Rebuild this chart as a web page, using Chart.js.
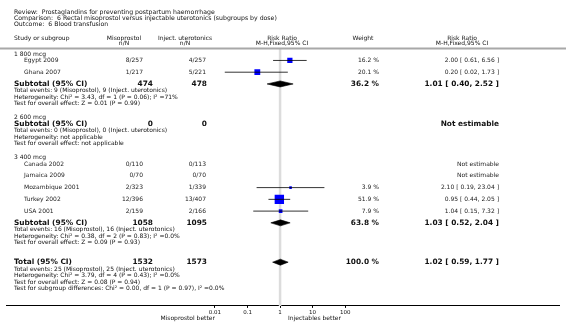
<!DOCTYPE html>
<html>
<head>
<meta charset="utf-8">
<script src="https://cdn.jsdelivr.net/npm/chart.js@4.4.1/dist/chart.umd.min.js"></script>
<style>
    html, body { margin: 0; padding: 0; background: #fff; }
    #wrap { width: 566px; height: 324px; }
</style>
</head>
<body>
<div id="wrap"><canvas id="forest" width="566" height="324"></canvas></div>
<script>
// --- data ---
const TITLE_LINES = [
    'Review:  Prostaglandins for preventing postpartum haemorrhage',
    'Comparison:  6 Rectal misoprostol versus injectable uterotonics (subgroups by dose)',
    'Outcome:  6 Blood transfusion'
];

const GROUPS = ['1 800 mcg', '2 600 mcg', '3 400 mcg'];

const STUDIES = ['Egypt 2009', 'Ghana 2007', 'Canada 2002', 'Jamaica 2009', 'Mozambique 2001', 'Turkey 2002', 'USA 2001'];
const STUDY_GROUP = [0, 0, 2, 2, 2, 2, 2];
const MISO_N = ['8/257', '1/217', '0/110', '0/70', '2/323', '12/396', '2/159'];
const INJ_N = ['4/257', '5/221', '0/113', '0/70', '1/339', '13/407', '2/166'];
const WEIGHTS = [16.2, 20.1, null, null, 3.9, 51.9, 7.9];
const RR = [2.00, 0.20, null, null, 2.10, 0.95, 1.04];
const RR_LO = [0.61, 0.02, null, null, 0.19, 0.44, 0.15];
const RR_HI = [6.56, 1.73, null, null, 23.04, 2.05, 7.32];

const SUB_MISO = [474, 0, 1058];
const SUB_INJ = [478, 0, 1095];
const SUB_WEIGHT = [36.2, null, 63.8];
const SUB_RR = [1.01, null, 1.03];
const SUB_LO = [0.40, null, 0.52];
const SUB_HI = [2.52, null, 2.04];
const SUB_NOTES = [
    ['Total events: 9 (Misoprostol), 9 (Inject. uterotonics)',
     'Heterogeneity: Chi² = 3.43, df = 1 (P = 0.06); I² =71%',
     'Test for overall effect: Z = 0.01 (P = 0.99)'],
    ['Total events: 0 (Misoprostol), 0 (Inject. uterotonics)',
     'Heterogeneity: not applicable',
     'Test for overall effect: not applicable'],
    ['Total events: 16 (Misoprostol), 16 (Inject. uterotonics)',
     'Heterogeneity: Chi² = 0.38, df = 2 (P = 0.83); I² =0.0%',
     'Test for overall effect: Z = 0.09 (P = 0.93)']
];

const TOTAL_MISO = 1532;
const TOTAL_INJ = 1573;
const TOTAL_WEIGHT = 100.0;
const TOTAL_RR = 1.02;
const TOTAL_LO = 0.59;
const TOTAL_HI = 1.77;
const TOTAL_NOTES = [
    'Total events: 25 (Misoprostol), 25 (Inject. uterotonics)',
    'Heterogeneity: Chi² = 3.79, df = 4 (P = 0.43); I² =0.0%',
    'Test for overall effect: Z = 0.08 (P = 0.94)',
    'Test for subgroup differences: Chi² = 0.00, df = 1 (P = 0.97), I² =0.0%'
];

const AXIS_TICKS = [0.01, 0.1, 1, 10, 100];
const AXIS_TICK_LABELS = ['0.01', '0.1', '1', '10', '100'];
const LEFT_LABEL = 'Misoprostol better';
const RIGHT_LABEL = 'Injectables better';

// --- layout ---
const FONT = '"DejaVu Sans", Verdana, sans-serif';
const Y_TOP = 49;      // header rule
const Y_AXIS = 307;    // axis line
const DECADE_PX = 33.33;
const X_MIN = Math.pow(10, -280 / DECADE_PX);
const X_MAX = Math.pow(10, (566 - 280) / DECADE_PX);

const COL = {
    study: 14, name: 24,
    miso: 143, inj: 206, misoSub: 153, injSub: 207,
    misoHead: 124, injHead: 185, plotHead: 282,
    weight: 379, weightHead: 363, rr: 499, rrHead: 462
};

// build rows top to bottom
const rows = [];
let y = 54;
GROUPS.forEach((g, gi) => {
    rows.push({ kind: 'group', y, text: g });
    const idx = STUDIES.map((_, i) => i).filter(i => STUDY_GROUP[i] === gi);
    if (idx.length) {
        y += 6.5;
        idx.forEach(i => { rows.push({ kind: 'study', y, i }); y += 11.8; });
    } else {
        y += 6;
    }
    rows.push({ kind: 'sub', y, gi });
    y += 7;
    SUB_NOTES[gi].forEach((t, k) => {
        rows.push({ kind: 'note', y, text: t });
        if (k < SUB_NOTES[gi].length - 1) y += 6.5;
    });
    y += 14;
});
y += 5.5;
rows.push({ kind: 'total', y });
y += 7;
TOTAL_NOTES.forEach((t, k) => {
    rows.push({ kind: 'note', y, text: t });
    y += 6.5;
});

const fmtRR = (r, lo, hi) => `${r.toFixed(2)} [ ${lo.toFixed(2)}, ${hi.toFixed(2)} ]`;
const fmtW = w => `${w.toFixed(1)} %`;

// --- datasets ---
const datasets = [];

// reference line at 1
datasets.push({
    type: 'line',
    data: [{ x: 1, y: Y_TOP }, { x: 1, y: Y_AXIS }],
    borderColor: '#dcdcdc',
    borderWidth: 2.5,
    pointRadius: 0,
    order: 10
});

rows.filter(r => r.kind === 'study' && RR[r.i] != null).forEach(r => {
    const i = r.i;
    datasets.push({
        type: 'line',
        data: [{ x: RR_LO[i], y: r.y }, { x: RR_HI[i], y: r.y }],
        borderColor: '#000',
        borderWidth: 0.8,
        pointRadius: 0,
        order: 0
    });
    datasets.push({
        type: 'scatter',
        data: [{ x: RR[i], y: r.y }],
        pointStyle: 'rect',
        pointRadius: 0.92 * Math.sqrt(WEIGHTS[i]),
        backgroundColor: '#0000ff',
        borderWidth: 0,
        order: 1
    });
});

function diamond(est, lo, hi, yy) {
    const h = 3;
    return {
        type: 'line',
        data: [
            { x: lo, y: yy }, { x: est, y: yy - h }, { x: hi, y: yy },
            { x: est, y: yy + h }, { x: lo, y: yy }
        ],
        borderColor: '#000',
        backgroundColor: '#000',
        borderWidth: 0.6,
        fill: 'shape',
        tension: 0,
        pointRadius: 0,
        order: 2
    };
}

rows.forEach(r => {
    if (r.kind === 'sub' && SUB_RR[r.gi] != null) {
        datasets.push(diamond(SUB_RR[r.gi], SUB_LO[r.gi], SUB_HI[r.gi], r.y));
    }
    if (r.kind === 'total') {
        datasets.push(diamond(TOTAL_RR, TOTAL_LO, TOTAL_HI, r.y));
    }
});

// --- text drawn around the plot ---
const textPlugin = {
    id: 'forestText',
    afterDraw(chart) {
        const ctx = chart.ctx;
        const ys = chart.scales.y;
        const py = v => ys.getPixelForValue(v);
        const small = `6px ${FONT}`;
        const bold = `bold 7.4px ${FONT}`;

        const put = (text, x, yy, align, font, color) => {
            ctx.font = font;
            ctx.textAlign = align;
            ctx.fillStyle = color || '#111';
            ctx.fillText(text, x, yy);
        };

        ctx.save();
        ctx.textBaseline = 'middle';

        // header
        TITLE_LINES.forEach((t, k) => put(t, COL.study, 12 + k * 6.3, 'left', `6.2px ${FONT}`));
        put('Study or subgroup', COL.study, 38, 'left', small);
        put('Misoprostol', COL.misoHead, 38, 'center', small);
        put('n/N', COL.misoHead, 43.5, 'center', small);
        put('Inject. uterotonics', COL.injHead, 38, 'center', small);
        put('n/N', COL.injHead, 43.5, 'center', small);
        put('Risk Ratio', COL.plotHead, 38, 'center', small);
        put('M-H,Fixed,95% CI', COL.plotHead, 43.5, 'center', small);
        put('Weight', COL.weightHead, 38, 'center', small);
        put('Risk Ratio', COL.rrHead, 38, 'center', small);
        put('M-H,Fixed,95% CI', COL.rrHead, 43.5, 'center', small);

        ctx.fillStyle = '#a8a8a8';
        ctx.fillRect(0, Y_TOP - 1.5, chart.width, 2);

        rows.forEach(r => {
            const yy = py(r.y);
            if (r.kind === 'group') {
                put(r.text, COL.study, yy, 'left', small);
            } else if (r.kind === 'study') {
                const i = r.i;
                put(STUDIES[i], COL.name, yy, 'left', small, '#222');
                put(MISO_N[i], COL.miso, yy, 'right', small, '#222');
                put(INJ_N[i], COL.inj, yy, 'right', small, '#222');
                if (RR[i] != null) {
                    put(fmtW(WEIGHTS[i]), COL.weight, yy, 'right', small, '#222');
                    put(fmtRR(RR[i], RR_LO[i], RR_HI[i]), COL.rr, yy, 'right', small, '#222');
                } else {
                    put('Not estimable', COL.rr, yy, 'right', small, '#222');
                }
            } else if (r.kind === 'sub') {
                const gi = r.gi;
                put('Subtotal (95% CI)', COL.study, yy, 'left', bold);
                put(String(SUB_MISO[gi]), COL.misoSub, yy, 'right', bold);
                put(String(SUB_INJ[gi]), COL.injSub, yy, 'right', bold);
                if (SUB_RR[gi] != null) {
                    put(fmtW(SUB_WEIGHT[gi]), COL.weight, yy, 'right', bold);
                    put(fmtRR(SUB_RR[gi], SUB_LO[gi], SUB_HI[gi]), COL.rr, yy, 'right', bold);
                } else {
                    put('Not estimable', COL.rr, yy, 'right', bold);
                }
            } else if (r.kind === 'total') {
                put('Total (95% CI)', COL.study, yy, 'left', bold);
                put(String(TOTAL_MISO), COL.misoSub, yy, 'right', bold);
                put(String(TOTAL_INJ), COL.injSub, yy, 'right', bold);
                put(fmtW(TOTAL_WEIGHT), COL.weight, yy, 'right', bold);
                put(fmtRR(TOTAL_RR, TOTAL_LO, TOTAL_HI), COL.rr, yy, 'right', bold);
            } else if (r.kind === 'note') {
                put(r.text, COL.study, yy, 'left', small);
            }
        });

        // axis side labels
        const xs = chart.scales.x;
        put(LEFT_LABEL, xs.getPixelForValue(AXIS_TICKS[0]), 318.5, 'right', small);
        put(RIGHT_LABEL, xs.getPixelForValue(1) + 8, 318.5, 'left', small);

        ctx.restore();
    }
};

new Chart(document.getElementById('forest'), {
    type: 'scatter',
    data: { datasets },
    options: {
        responsive: false,
        animation: false,
        events: [],
        layout: { padding: { top: Y_TOP, bottom: 7.5, left: 0, right: 0 } },
        plugins: { legend: { display: false }, tooltip: { enabled: false } },
        scales: {
            x: {
                type: 'logarithmic',
                min: X_MIN,
                max: X_MAX,
                afterBuildTicks: s => { s.ticks = AXIS_TICKS.map(v => ({ value: v })); },
                ticks: {
                    autoSkip: false,
                    maxRotation: 0,
                    padding: 1,
                    color: '#111',
                    font: { family: FONT, size: 5.5 },
                    callback: v => AXIS_TICK_LABELS[AXIS_TICKS.indexOf(v)] ?? ''
                },
                grid: { drawOnChartArea: false, drawTicks: true, tickLength: 2, color: '#000' },
                border: { display: true, color: '#000', width: 1 }
            },
            y: {
                type: 'linear',
                display: false,
                reverse: true,
                min: Y_TOP,
                max: Y_AXIS
            }
        }
    },
    plugins: [textPlugin]
});
</script>
</body>
</html>
